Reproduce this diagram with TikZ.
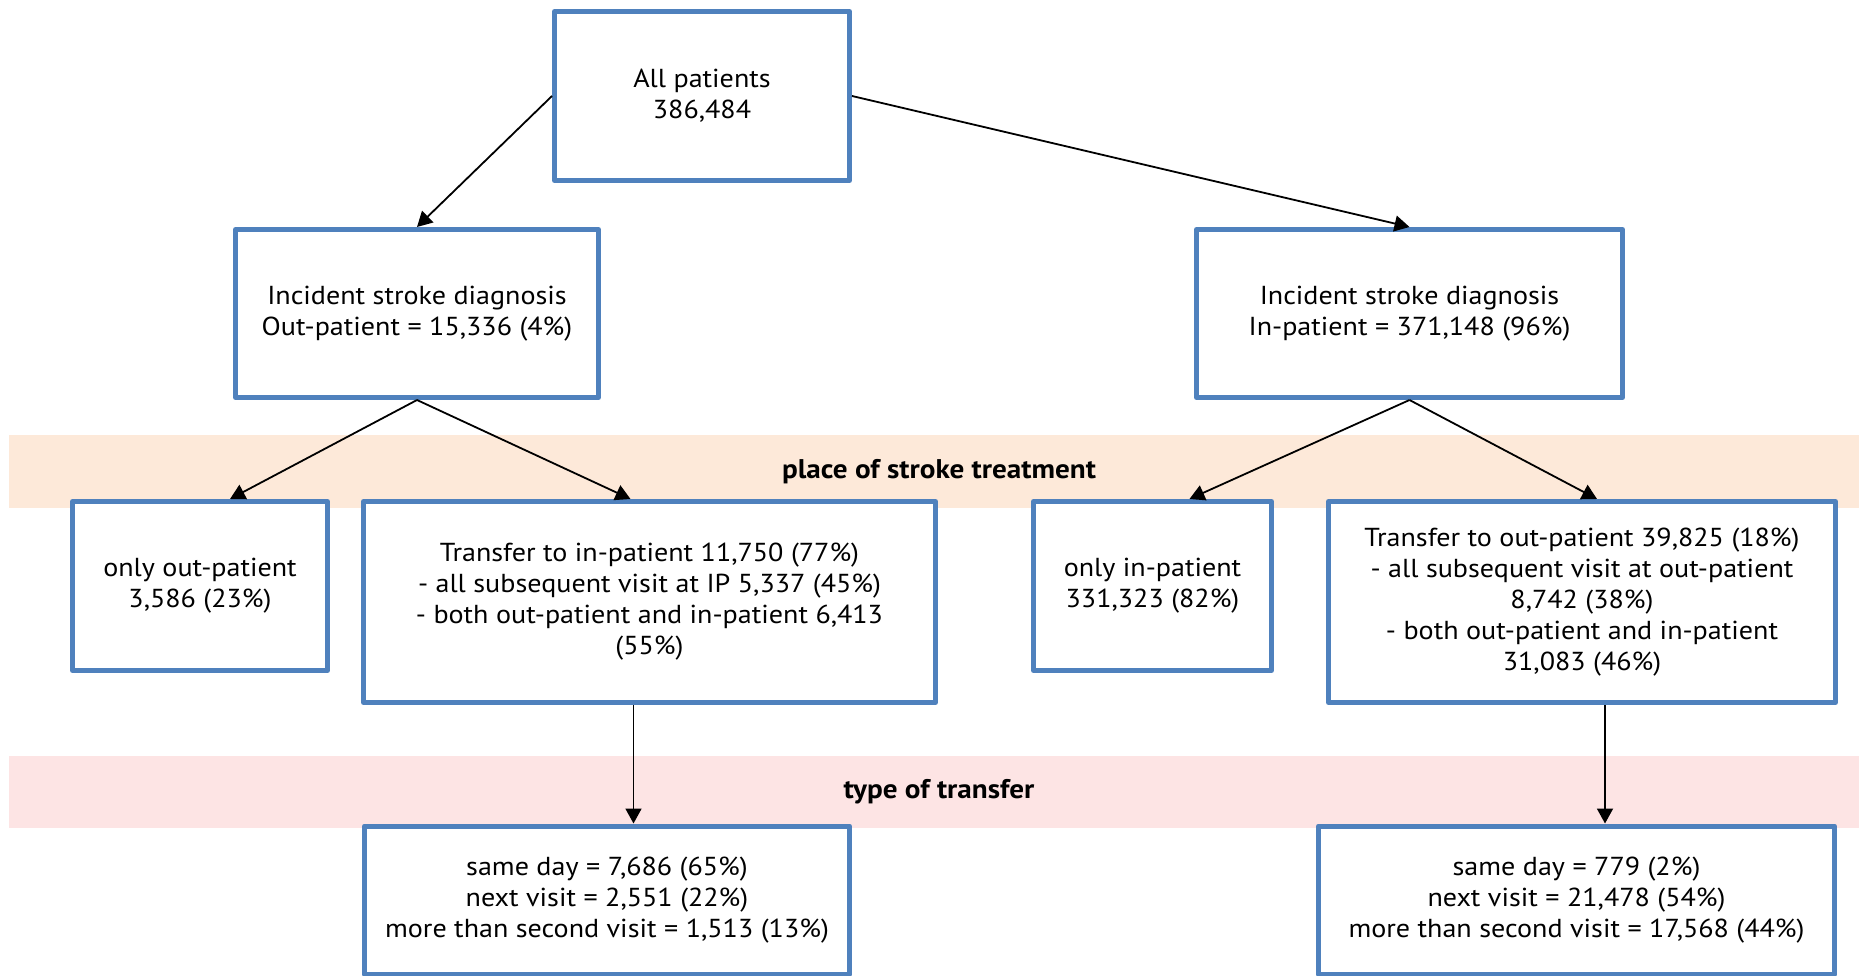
\documentclass[tikz,border=0pt]{standalone}
\usepackage{fontspec}
\setmainfont{PT Sans}[FakeStretch=1.08]
\usetikzlibrary{arrows.meta}
\definecolor{boxblue}{HTML}{4F81BD}
\definecolor{treatband}{HTML}{FDE9D9}
\definecolor{transband}{HTML}{FDE4E4}

\begin{document}
\begin{tikzpicture}[x=1pt,y=-1pt,
box/.style={draw=boxblue,line width=5pt,fill=white,rectangle,line join=round,
    inner sep=0pt,align=center,font=\fontsize{26}{31}\selectfont},
arr/.style={-{Triangle[width=16pt,length=15pt]},line width=1.8pt},
bandlabel/.style={font=\fontsize{27}{31}\selectfont\bfseries}]
\useasboundingbox (0,0) rectangle (1859,976);

% bands
\fill[treatband] (9,435) rectangle (1859,508);
\fill[transband] (9,756) rectangle (1859,828);
\node (treat) [bandlabel] at (939,472) {place of stroke treatment};
\node (trans) [bandlabel] at (939,792) {type of transfer};

\node (allp) [box,minimum width=295pt,minimum height=169pt] at (702,96)
    {All patients\\386,484};

\node (outp) [box,minimum width=363pt,minimum height=168pt] at (417,313.5)
    {Incident stroke diagnosis\\Out-patient = 15,336 (4\%)};
\node (inp) [box,minimum width=426pt,minimum height=168pt] at (1409.5,313.5)
    {Incident stroke diagnosis\\In-patient = 371,148 (96\%)};

\node (onlyout) [box,minimum width=255pt,minimum height=169pt] at (200,586)
    {only out-patient\\3,586 (23\%)};
\node (toin) [box,minimum width=572pt,minimum height=201pt] at (649.5,602)
    {Transfer to in-patient 11,750 (77\%)\\
     - all subsequent visit at IP 5,337 (45\%)\\
     - both out-patient and in-patient 6,413\\
     (55\%)};
\node (onlyin) [box,minimum width=238pt,minimum height=169pt] at (1152.5,586)
    {only in-patient\\331,323 (82\%)};
\node (toout) [box,minimum width=507pt,minimum height=201pt] at (1582,602)
    {Transfer to out-patient 39,825 (18\%)\\
     - all subsequent visit at out-patient\\
     8,742 (38\%)\\
     - both out-patient and in-patient\\
     31,083 (46\%)};

\node (sameL) [box,minimum width=485pt,minimum height=148pt] at (607,900)
    {same day = 7,686 (65\%)\\next visit = 2,551 (22\%)\\more than second visit = 1,513 (13\%)};
\node (sameR) [box,minimum width=516pt,minimum height=148pt] at (1576.5,900)
    {same day = 779 (2\%)\\next visit = 21,478 (54\%)\\more than second visit = 17,568 (44\%)};

% connectors
\draw[arr] (allp.west) -- (outp.north);
\draw[arr] (allp.east) -- (inp.north);
\draw[arr] (outp.south) -- ([xshift=30pt]onlyout.north);
\draw[arr] (outp.south) -- ([xshift=-19pt]toin.north);
\draw[arr] (inp.south) -- ([xshift=37pt]onlyin.north);
\draw[arr] (inp.south) -- ([xshift=15pt]toout.north);
\draw[arr] ([xshift=-16pt]toin.south) -- ([xshift=-16pt]toin.south |- sameL.north);
\draw[arr] ([xshift=23pt]toout.south) -- ([xshift=23pt]toout.south |- sameR.north);
\end{tikzpicture}
\end{document}
